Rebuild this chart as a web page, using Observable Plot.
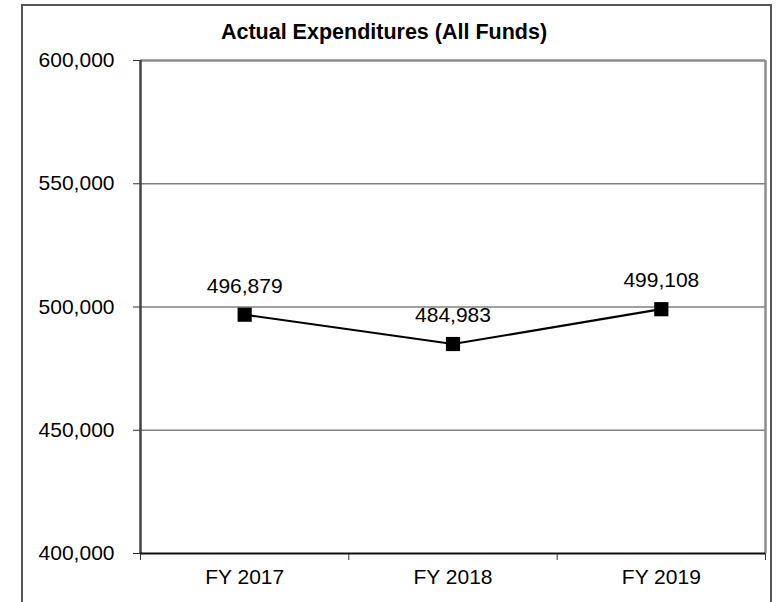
<!DOCTYPE html>
<html>
<head>
<meta charset="utf-8">
<script src="https://cdn.jsdelivr.net/npm/d3@7"></script>
<script src="https://cdn.jsdelivr.net/npm/@observablehq/plot@0.6"></script>
<style>
  html, body { margin: 0; padding: 0; background: #fff; overflow: hidden; }
  #wrap { position: relative; width: 777px; height: 602px; overflow: hidden; }
  #border { position: absolute; left: 21px; top: 4px; width: 751px; height: 620px; border: 2px solid #555; box-sizing: border-box; }
  #chart { position: absolute; left: 0; top: 0; }
</style>
</head>
<body>
<div id="wrap">
  <div id="border"></div>
  <div id="chart"></div>
</div>
<script>
const title = "Actual Expenditures (All Funds)";
const categories = ["FY 2017", "FY 2018", "FY 2019"];
const values = [496879, 484983, 499108];
const yTicks = [400000, 450000, 500000, 550000, 600000];

const data = categories.map((c, i) => ({ cat: c, pos: i + 0.5, value: values[i] }));
const fmt = d3.format(",");
const font = "Liberation Sans, Arial, sans-serif";

const chart = Plot.plot({
  width: 777,
  height: 602,
  marginLeft: 140,
  marginRight: 12,
  marginTop: 60,
  marginBottom: 49,
  style: { fontFamily: font, fontSize: "21px", background: "transparent", color: "#000", overflow: "visible" },
  x: { domain: [0, categories.length], axis: null, label: null },
  y: { domain: [400000, 600000], axis: null, label: null },
  marks: [
    Plot.ruleY(yTicks.slice(1, -1), { stroke: "#808080", strokeWidth: 1.3 }),
    Plot.ruleY([600000], { stroke: "#8c8c8c", strokeWidth: 2.5 }),
    Plot.ruleX([categories.length], { stroke: "#8c8c8c", strokeWidth: 2.5 }),
    Plot.ruleX([0], { stroke: "#444", strokeWidth: 2.5 }),
    Plot.axisY({ ticks: yTicks, tickSize: 7, tickPadding: 19, tickFormat: fmt, fontSize: 21, stroke: "#333", label: null }),
    Plot.axisX({ ticks: d3.range(categories.length + 1), tickSize: 7, tickFormat: () => "", stroke: "#333", label: null }),
    Plot.axisX({ ticks: data.map(d => d.pos), tickSize: 0, tickPadding: 16, tickFormat: (d) => categories[Math.floor(d)], fontSize: 21, label: null }),
    Plot.ruleY([400000], { stroke: "#111", strokeWidth: 2 }),
    Plot.line(data, { x: "pos", y: "value", stroke: "#000", strokeWidth: 2.2 }),
    Plot.dot(data, { x: "pos", y: "value", symbol: "square", r: 8, fill: "#000", stroke: "none" }),
    Plot.text(data, { x: "pos", y: "value", text: d => fmt(d.value), dy: -22, lineAnchor: "bottom", fontSize: 21, fill: "#000" }),
    Plot.text([title], { frameAnchor: "top", dx: -69, dy: -28, fontSize: 21.5, fontWeight: "bold", lineAnchor: "middle", fill: "#000" })
  ]
});
document.getElementById("chart").appendChild(chart);
</script>
</body>
</html>
